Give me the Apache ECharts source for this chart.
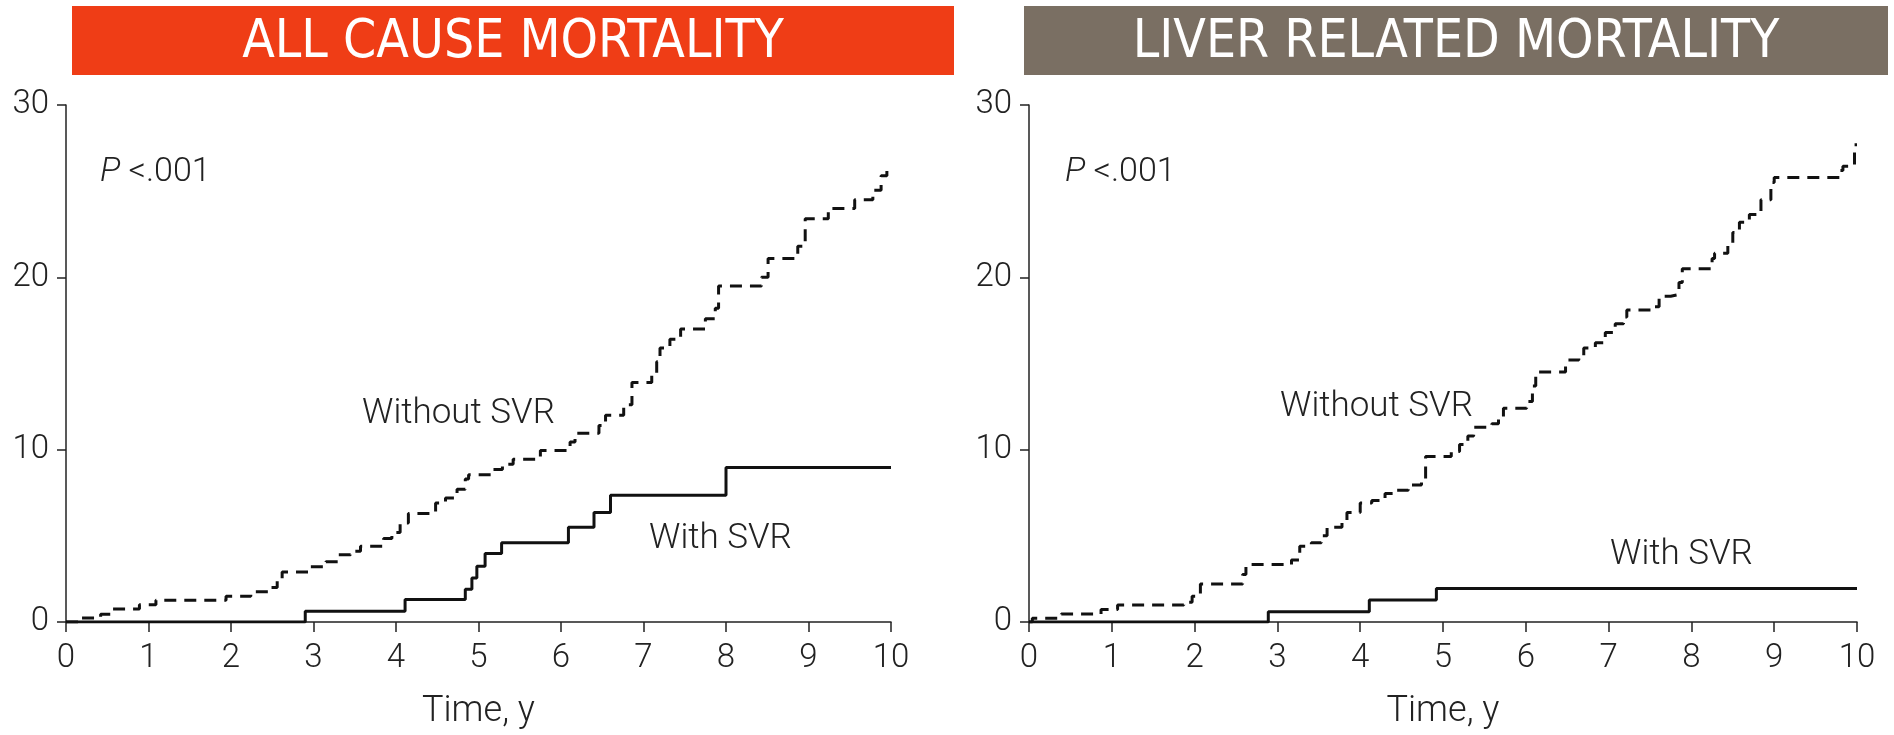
<!DOCTYPE html>
<html>
<head>
<meta charset="utf-8">
<script src="https://cdn.jsdelivr.net/npm/echarts@6/dist/echarts.min.js"></script>
<style>
  html, body { margin: 0; padding: 0; background: #fff; }
  #chart { width: 1894px; height: 735px; }
</style>
</head>
<body>
<div id="chart"></div>
<script>
// 数据：时间(年) 与 累计死亡率(%)
var panelTitles = ['ALL CAUSE MORTALITY', 'LIVER RELATED MORTALITY'];
var xTicks = [0, 1, 2, 3, 4, 5, 6, 7, 8, 9, 10];
var yTicks = [0, 10, 20, 30];

// 全因死亡 - 无SVR
var allNoSvrT = [0, 0.16, 0.42, 0.56, 0.89, 1.09, 1.94, 2.24, 2.45, 2.56, 2.62, 2.96, 3.15, 3.3, 3.45, 3.57, 3.85, 3.95, 4.05, 4.15, 4.48, 4.6, 4.74, 4.84, 4.88, 5.16, 5.29, 5.42, 5.75, 6.11, 6.17, 6.46, 6.54, 6.76, 6.86, 7.1, 7.16, 7.2, 7.32, 7.45, 7.75, 7.87, 7.91, 8.43, 8.51, 8.87, 8.96, 9.24, 9.56, 9.78, 9.88, 9.95, 10];
var allNoSvrV = [0, 0.23, 0.45, 0.75, 1.0, 1.26, 1.5, 1.75, 2.0, 2.5, 2.9, 3.2, 3.5, 3.9, 4.1, 4.4, 4.85, 5.2, 5.75, 6.3, 6.9, 7.2, 7.7, 8.3, 8.55, 8.85, 9.15, 9.45, 9.95, 10.45, 10.95, 11.4, 12.0, 12.6, 13.9, 14.4, 15.1, 15.9, 16.4, 17.0, 17.6, 18.2, 19.5, 20.0, 21.1, 21.8, 23.4, 24.0, 24.5, 25.05, 25.9, 26.2, 26.2];
// 全因死亡 - 有SVR
var allSvrT = [0, 2.9, 4.11, 4.84, 4.92, 4.98, 5.08, 5.28, 6.09, 6.4, 6.6, 8.0, 10];
var allSvrV = [0, 0.62, 1.3, 1.9, 2.55, 3.23, 3.97, 4.6, 5.5, 6.36, 7.35, 8.96, 8.96];
// 肝脏相关死亡 - 无SVR
var liverNoSvrT = [0, 0.04, 0.39, 0.87, 1.07, 1.87, 1.97, 2.07, 2.58, 2.62, 3.17, 3.27, 3.41, 3.53, 3.6, 3.78, 3.84, 4.0, 4.14, 4.3, 4.44, 4.58, 4.74, 4.79, 5.1, 5.2, 5.3, 5.37, 5.59, 5.67, 5.73, 6.01, 6.08, 6.12, 6.48, 6.5, 6.64, 6.7, 6.84, 6.96, 7.08, 7.18, 7.22, 7.51, 7.61, 7.75, 7.85, 7.89, 8.25, 8.28, 8.44, 8.5, 8.58, 8.7, 8.84, 8.96, 9.0, 9.79, 9.83, 9.97, 10];
var liverNoSvrV = [0, 0.22, 0.46, 0.72, 0.98, 1.15, 1.5, 2.2, 2.75, 3.33, 3.6, 4.4, 4.6, 5.0, 5.5, 5.85, 6.35, 6.9, 7.05, 7.45, 7.65, 7.95, 8.15, 9.6, 9.9, 10.3, 10.8, 11.3, 11.5, 11.9, 12.4, 12.8, 13.7, 14.5, 14.9, 15.2, 15.45, 15.9, 16.2, 16.8, 17.3, 17.7, 18.1, 18.3, 18.9, 19.0, 19.7, 20.5, 21.1, 21.4, 21.9, 22.6, 23.2, 23.65, 24.5, 25.5, 25.8, 26.2, 26.45, 27.7, 27.7];
// 肝脏相关死亡 - 有SVR
var liverSvrT = [0, 2.89, 4.11, 4.92, 10];
var liverSvrV = [0, 0.6, 1.27, 1.95, 1.95];

var font = 'Roboto';
var titleFont = '"Liberation Sans Narrow", "DejaVu Sans Condensed", "Roboto", sans-serif';
var textColor = '#222';

function zip(t, v) {
  return t.map(function (x, i) { return [x, v[i]]; });
}

var myChart = echarts.init(document.getElementById('chart'));

function xAxisOpt(idx) {
  return {
    type: 'value', gridIndex: idx, min: 0, max: 10, interval: 1,
    name: 'Time, y', nameLocation: 'middle', nameGap: 72,
    nameTextStyle: { fontFamily: font, fontWeight: 300, fontSize: 36, color: textColor },
    axisLine: { show: true, onZero: false, lineStyle: { color: '#222', width: 1.5 } },
    axisTick: { show: true, length: 10, lineStyle: { color: '#222', width: 1.5 } },
    axisLabel: { margin: 20, fontFamily: font, fontWeight: 300, fontSize: 33, color: textColor,
      formatter: function (v) { return xTicks.indexOf(v) >= 0 ? String(v) : ''; } },
    splitLine: { show: false }
  };
}
function yAxisOpt(idx) {
  return {
    type: 'value', gridIndex: idx, min: 0, max: 30, interval: 10,
    axisLine: { show: true, lineStyle: { color: '#222', width: 1.5 } },
    axisTick: { show: true, length: 9, lineStyle: { color: '#222', width: 1.5 } },
    axisLabel: { margin: 17, fontFamily: font, fontWeight: 300, fontSize: 33, color: textColor,
      formatter: function (v) { return yTicks.indexOf(v) >= 0 ? String(v) : ''; } },
    splitLine: { show: false }
  };
}
function stepSeries(idx, t, v, dashed) {
  return {
    type: 'line', xAxisIndex: idx, yAxisIndex: idx, step: 'end',
    data: zip(t, v), symbol: 'none', silent: true, animation: false,
    lineStyle: { color: '#111', width: 3, type: dashed ? [12, 8] : 'solid' },
    z: dashed ? 3 : 4
  };
}
function label(x, y, txt) {
  return {
    type: 'text', left: x, top: y,
    style: { text: txt, fontFamily: font, fontWeight: 300, fontSize: 35, fill: textColor, verticalAlign: 'middle' }
  };
}
function pLabel(x, y) {
  return {
    type: 'text', left: x, top: y,
    style: {
      text: '{i|P} <.001',
      rich: { i: { fontStyle: 'italic', fontFamily: font, fontWeight: 300, fontSize: 34, fill: textColor } },
      fontFamily: font, fontWeight: 300, fontSize: 34, fill: textColor
    }
  };
}
function titleBar(x, w, color, txt) {
  return {
    type: 'group', left: x, top: 6,
    children: [
      { type: 'rect', shape: { x: 0, y: 0, width: w, height: 69 }, style: { fill: color } },
      { type: 'text', x: w / 2, y: 37,
        style: { text: txt, fill: '#fff', fontFamily: titleFont, fontSize: 53,
          align: 'center', verticalAlign: 'middle' } }
    ]
  };
}

var option = {
  backgroundColor: '#fff',
  animation: false,
  grid: [
    { left: 66, top: 105, width: 825, height: 517 },
    { left: 1029, top: 105, width: 828, height: 517 }
  ],
  xAxis: [xAxisOpt(0), xAxisOpt(1)],
  yAxis: [yAxisOpt(0), yAxisOpt(1)],
  series: [
    stepSeries(0, allNoSvrT, allNoSvrV, true),
    stepSeries(0, allSvrT, allSvrV, false),
    stepSeries(1, liverNoSvrT, liverNoSvrV, true),
    stepSeries(1, liverSvrT, liverSvrV, false)
  ],
  graphic: [
    titleBar(72, 882, '#EF3D16', panelTitles[0]),
    titleBar(1024, 864, '#7A6F63', panelTitles[1]),
    pLabel(100, 155),
    pLabel(1065, 155),
    label(362, 397, 'Without SVR'),
    label(649, 522, 'With SVR'),
    label(1280, 390, 'Without SVR'),
    label(1610, 538, 'With SVR')
  ]
};
myChart.setOption(option);
</script>
</body>
</html>
